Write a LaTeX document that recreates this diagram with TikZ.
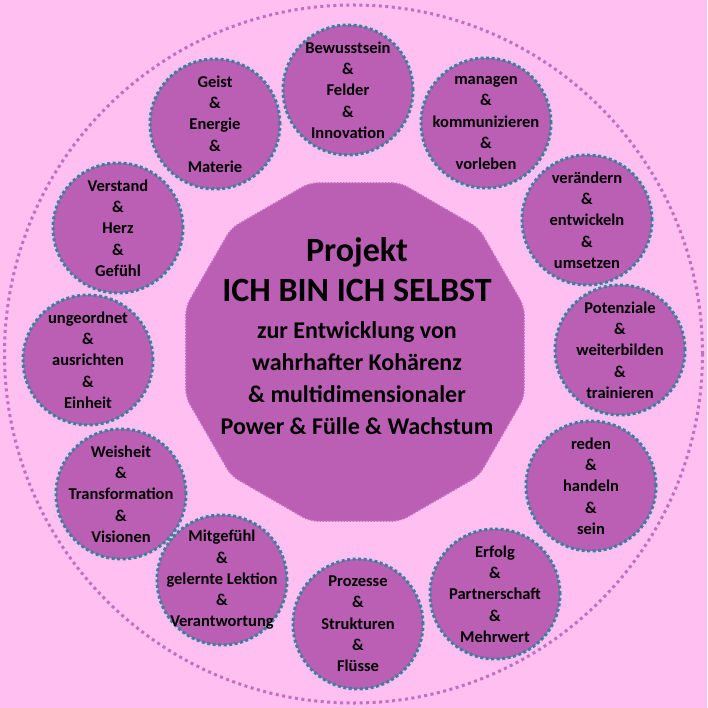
\documentclass[tikz,border=0pt]{standalone}
\usepackage{fontspec}
\setmainfont{Carlito}
\usetikzlibrary{shapes.geometric}
\definecolor{bg}{HTML}{FFBFF0}
\definecolor{pur}{HTML}{BB5FB5}
\definecolor{pdot}{HTML}{C070C0}
\definecolor{tdot}{HTML}{31849B}
\begin{document}
\begin{tikzpicture}[x=1pt,y=-1pt,
  sm/.style={circle,minimum size=130pt,inner sep=-30pt,fill=pur,draw=tdot,line width=3pt,dash pattern=on 3pt off 2.5pt,align=center,font=\bfseries\fontsize{16.5}{21.3}\selectfont},
  ]
\fill[bg] (0,0) rectangle (707,708);
\useasboundingbox (0,0) rectangle (707,708);
\node[circle,minimum size=698pt,draw=pdot,line width=3pt,dash pattern=on 3pt off 3.5pt] (outer) at (353.5,354) {};
\node[regular polygon,regular polygon sides=12,minimum size=350pt,fill=pur,draw=pdot,line width=1.5pt,dash pattern=on 1.5pt off 1.5pt,rounded corners=8pt,align=center,inner sep=0pt] (c) at (355,352) {};
\node[align=center,font=\bfseries\fontsize{34}{40}\selectfont] (t) at (357,270) {Projekt\\ICH BIN ICH SELBST};
\node[align=center,font=\bfseries\fontsize{24}{32}\selectfont] (s) at (357,378) {zur Entwicklung von\\wahrhafter Kohärenz\\\& multidimensionaler\\Power \& Fülle \& Wachstum};
\node[sm] (n1) at (348,90) {Bewusstsein\\\&\\Felder\\\&\\Innovation};
\node[sm] (n2) at (486,123) {managen\\\&\\kommunizieren\\\&\\vorleben};
\node[sm] (n3) at (587,220) {verändern\\\&\\entwickeln\\\&\\umsetzen};
\node[sm] (n4) at (620,350) {Potenziale\\\&\\weiterbilden\\\&\\trainieren};
\node[sm] (n5) at (591,486) {reden\\\&\\handeln\\\&\\sein};
\node[sm] (n6) at (495,594) {Erfolg\\\&\\Partnerschaft\\\&\\Mehrwert};
\node[sm] (n7) at (358,624) {Prozesse\\\&\\Strukturen\\\&\\Flüsse};
\node[sm] (n8) at (222,580) {Mitgefühl\\\&\\gelernte Lektion\\\&\\Verantwortung};
\node[sm] (n9) at (121,494) {Weisheit\\\&\\Transformation\\\&\\Visionen};
\node[sm] (n10) at (88,360) {ungeordnet\\\&\\ausrichten\\\&\\Einheit};
\node[sm] (n11) at (118,228) {Verstand\\\&\\Herz\\\&\\Gefühl};
\node[sm] (n12) at (215,124) {Geist\\\&\\Energie\\\&\\Materie};
\end{tikzpicture}
\end{document}
